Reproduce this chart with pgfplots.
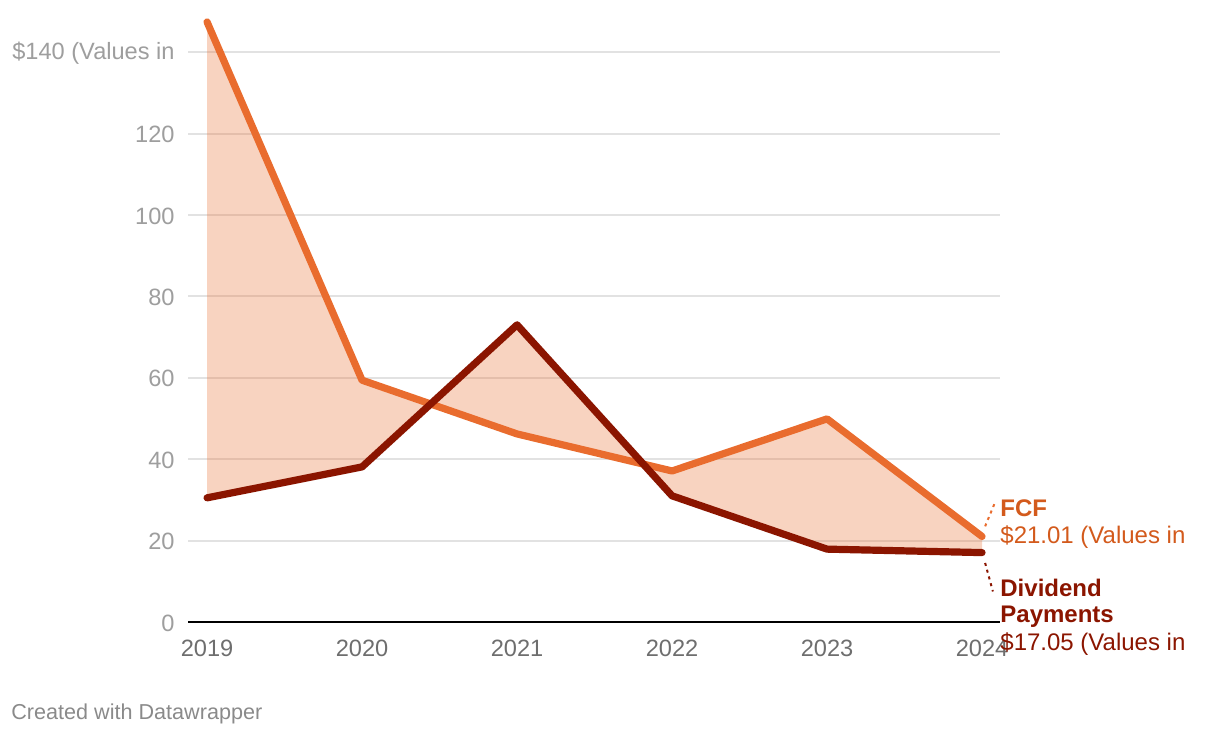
\documentclass[border=0pt]{standalone}
\usepackage{fontspec}
\setmainfont{Liberation Sans}
\usepackage{pgfplots}
\pgfplotsset{compat=1.18}
\usepgfplotslibrary{fillbetween}
\definecolor{fcf}{HTML}{E96C2E}
\definecolor{divc}{HTML}{8B1500}
\definecolor{fcftext}{HTML}{D35A1C}
\definecolor{gridc}{HTML}{E2E2E2}
\definecolor{ytickc}{HTML}{9E9E9E}
\definecolor{xtickc}{HTML}{6E6E6E}
\definecolor{credc}{HTML}{8A8A8A}
\begin{document}
\begin{tikzpicture}
\begin{axis}[
  set layers,
  at={(94pt,58pt)}, anchor=south west,
  scale only axis, width=406pt, height=305.3pt,
  xmin=2018.877, xmax=2024.116, ymin=0, ymax=150,
  clip=false,
  axis lines*=left,
  y axis line style={draw=none},
  x axis line style={-, black, line width=1pt},
  major tick length=0pt,
  ymajorgrids, grid style={gridc, line width=1pt},
  xtick={2019,2020,2021,2022,2023,2024},
  xticklabels={2019,2020,2021,2022,2023,2024},
  ytick={0,20,40,60,80,100,120,140},
  yticklabels={0,20,40,60,80,100,120,\$140 (Values in},
  tick label style={inner sep=0pt},
  yticklabel style={font=\fontsize{11.8}{13}\selectfont, text=ytickc, anchor=east, xshift=-6.5pt, yshift=-0.5pt},
  xticklabel style={font=\fontsize{11.8}{13}\selectfont, text=xtickc, anchor=center, yshift=-13pt},
]
\addplot[name path=fcfp, fcf, line width=3.6pt, line join=round, line cap=round] coordinates {(2019,147.4) (2020,59.4) (2021,46.2) (2022,37.1) (2023,49.9) (2024,21.01)};
\addplot[name path=divp, divc, line width=3.6pt, line join=round, line cap=round] coordinates {(2019,30.5) (2020,38.1) (2021,73.0) (2022,31.0) (2023,17.9) (2024,17.05)};
\addplot[fill=fcf, fill opacity=0.3, draw=none, on layer=pre main] fill between[of=fcfp and divp];
\draw[fcf, line width=1pt, dash pattern=on 1.5pt off 2pt] (axis cs:2024.02,23.5) -- (axis cs:2024.085,29.5);
\draw[divc, line width=1pt, dash pattern=on 1.5pt off 2pt] (axis cs:2024.02,14.5) -- (axis cs:2024.07,7.5);
\node[anchor=west, inner sep=0pt, text=fcftext, font=\fontsize{12}{14.5}\selectfont\bfseries] at (axis cs:2024.116,28.0) {FCF};
\node[anchor=west, inner sep=0pt, text=fcftext, font=\fontsize{12}{14.5}\selectfont] at (axis cs:2024.116,20.9) {\$21.01 (Values in};
\node[anchor=west, inner sep=0pt, text=divc, font=\fontsize{12}{14.5}\selectfont\bfseries] at (axis cs:2024.116,8.35) {Dividend};
\node[anchor=west, inner sep=0pt, text=divc, font=\fontsize{12}{14.5}\selectfont\bfseries] at (axis cs:2024.116,1.23) {Payments};
\node[anchor=west, inner sep=0pt, text=divc, font=\fontsize{12}{14.5}\selectfont] at (axis cs:2024.116,-5.4) {\$17.05 (Values in};
\end{axis}
\node[anchor=west, inner sep=0pt, text=credc, font=\fontsize{10.8}{12}\selectfont] at (5.5pt,12pt) {Created with Datawrapper};
\path (0,0) rectangle (610pt,369pt);
\end{tikzpicture}
\end{document}
